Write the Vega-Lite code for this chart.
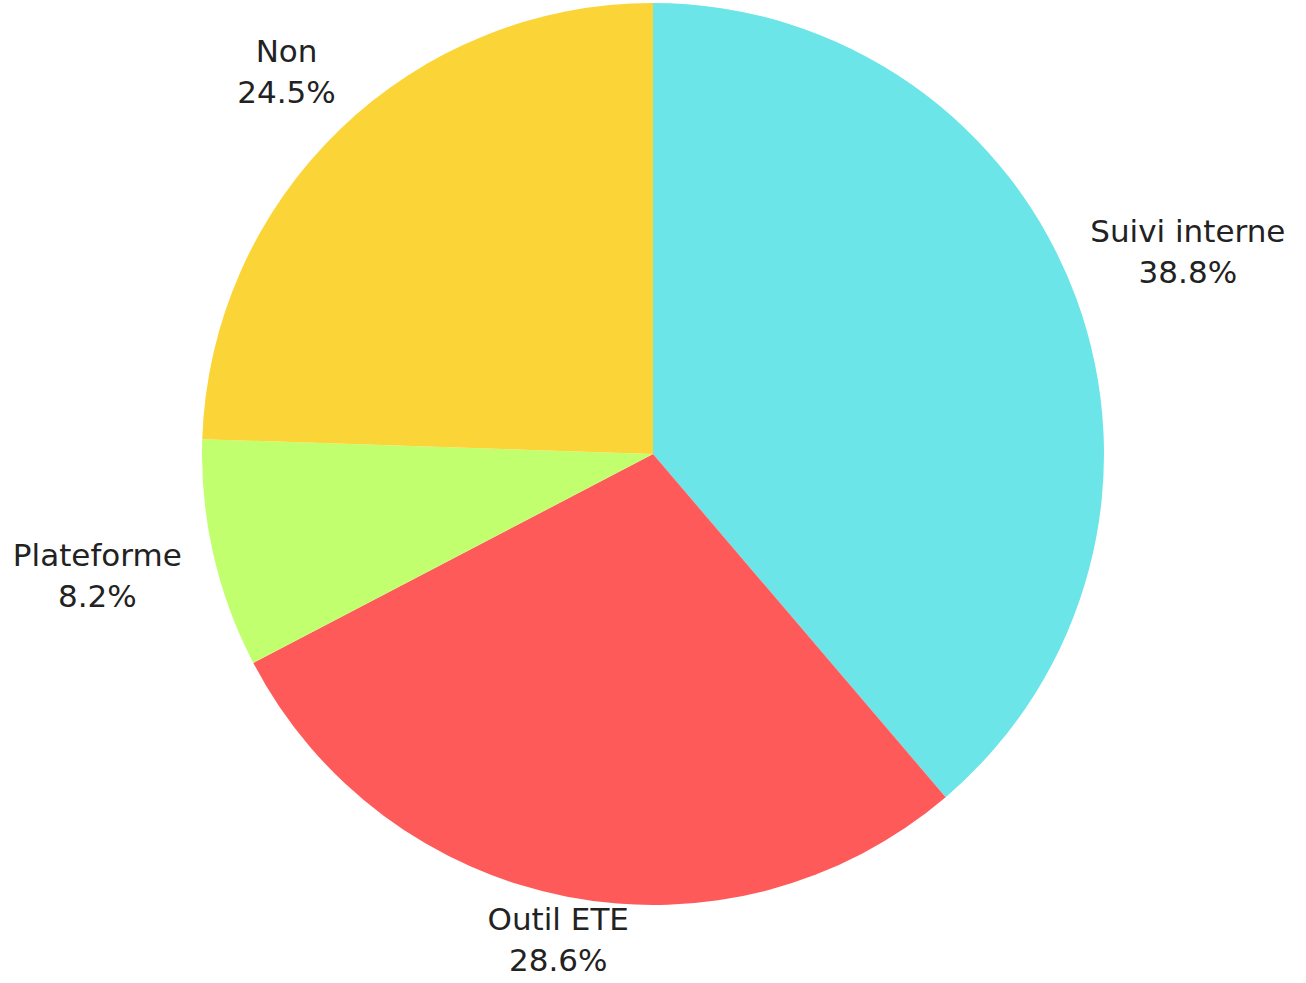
{
  "$schema": "https://vega.github.io/schema/vega-lite/v6.json",
  "width": 1306,
  "height": 908,
  "autosize": {"type": "none"},
  "padding": {"top": 0, "left": 0, "right": 0, "bottom": 75},
  "background": "white",
  "view": {"stroke": null},
  "data": {
    "values": [
      {"category": "Suivi interne", "share": 0.388, "rank": 1},
      {"category": "Outil ETE", "share": 0.286, "rank": 2},
      {"category": "Plateforme", "share": 0.082, "rank": 3},
      {"category": "Non", "share": 0.245, "rank": 4}
    ]
  },
  "transform": [
    {"calculate": "datum.category + '\\n' + format(datum.share, '.1%')", "as": "lbl"}
  ],
  "encoding": {
    "theta": {"field": "share", "type": "quantitative", "stack": true},
    "order": {"field": "rank", "type": "quantitative"}
  },
  "layer": [
    {
      "mark": {"type": "arc", "radius": 451},
      "encoding": {
        "color": {
          "field": "category",
          "type": "nominal",
          "scale": {
            "domain": ["Suivi interne", "Outil ETE", "Plateforme", "Non"],
            "range": ["#6BE5E8", "#FF5A5A", "#C1FF6E", "#FBD537"]
          },
          "legend": null
        }
      }
    },
    {
      "mark": {"type": "text", "radius": 570, "dy": -24, "font": "DejaVu Sans", "fontSize": 31, "lineHeight": 41, "lineBreak": "\n", "baseline": "middle", "align": "center", "color": "#222222"},
      "encoding": {
        "text": {"condition": {"test": "datum.category == 'Suivi interne' || datum.category == 'Plateforme'", "field": "lbl", "type": "nominal"}, "value": ""}
      }
    },
    {
      "mark": {"type": "text", "radius": 498, "dy": -22, "font": "DejaVu Sans", "fontSize": 31, "lineHeight": 41, "lineBreak": "\n", "baseline": "middle", "align": "center", "color": "#222222"},
      "encoding": {
        "text": {"condition": {"test": "datum.category == 'Outil ETE'", "field": "lbl", "type": "nominal"}, "value": ""}
      }
    },
    {
      "mark": {"type": "text", "radius": 527, "dy": -22, "font": "DejaVu Sans", "fontSize": 31, "lineHeight": 41, "lineBreak": "\n", "baseline": "middle", "align": "center", "color": "#222222"},
      "encoding": {
        "text": {"condition": {"test": "datum.category == 'Non'", "field": "lbl", "type": "nominal"}, "value": ""}
      }
    }
  ]
}
